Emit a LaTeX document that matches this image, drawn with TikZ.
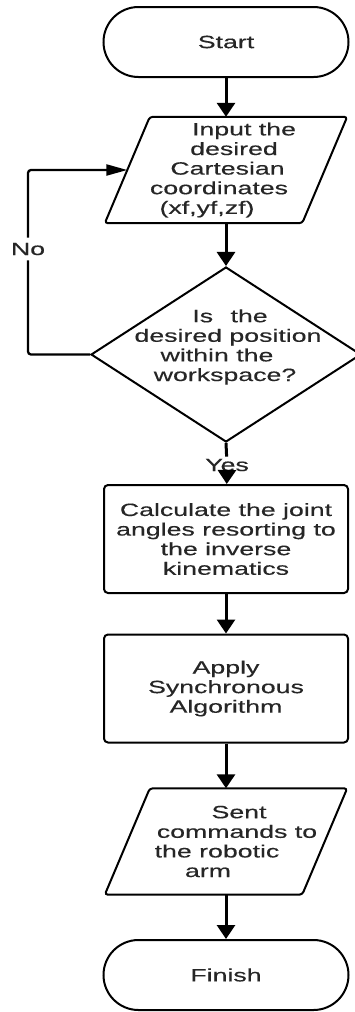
\documentclass[tikz,border=0pt]{standalone}
\usepackage{fontspec}
\setmainfont{Liberation Sans}[FakeStretch=1.5,FakeBold=0.3]
\usetikzlibrary{arrows.meta,shapes.geometric}
% one line of a centred block, moved sideways by half of #1
\newcommand\shiftedline[2]{\makebox[0pt]{\hspace*{#1}#2}}
\begin{document}
\begin{tikzpicture}[x=1pt,y=-1pt,
  txt/.style={font=\fontsize{17.8}{19.6}\selectfont, text=black!85},
  outline/.style={line width=2pt, draw=black},
  terminal/.style={txt, outline, rounded corners=35pt, minimum width=245pt,
    minimum height=70pt, inner sep=0pt},
  process/.style={txt, outline, rounded corners=4pt, minimum width=244pt,
    minimum height=108pt, align=center, inner sep=0pt},
  iobody/.style={txt, minimum width=197pt, minimum height=106pt,
    align=center, inner sep=0pt},
  decision/.style={outline, shape=diamond, minimum width=270pt,
    minimum height=175pt, inner sep=0pt},
  label/.style={txt, inner sep=3pt},
  flow/.style={line width=3pt, -{Triangle[length=14pt,width=18pt]}},
  plain/.style={line width=3pt},
  loopline/.style={line width=2.3pt, rounded corners=3pt},
  looparrow/.style={loopline, -{Triangle[length=21pt,width=11pt]}}]

\useasboundingbox (0,0) rectangle (355,1012);
\fill[white] (0,0) rectangle (355,1012);

% terminals and steps
\node[terminal] (start) at (226,42) {Start};

\node[iobody] (input) at (226,170) {%
  \shiftedline{36pt}{Input the}\\
  \shiftedline{16pt}{desired}\\
  \shiftedline{3pt}{Cartesian}\\
  \shiftedline{-14pt}{coordinates}\\
  \shiftedline{-38pt}{(xf,yf,zf)}};
\draw[outline, rounded corners=3pt]
  ([xshift=22.5pt]input.north west) -- ([xshift=22.5pt]input.north east)
  -- ([xshift=-22.5pt]input.south east) -- ([xshift=-22.5pt]input.south west)
  -- cycle;

\node[decision] (check) at (226,354.5) {};
\node[txt, align=center, inner sep=0pt] (checktext) at (226,347) {%
  \shiftedline{8pt}{Is\hspace{10pt} the}\\
  \shiftedline{4pt}{desired position}\\
  \shiftedline{-18pt}{within the}\\
  \shiftedline{-2pt}{workspace?}};

\node[label, inner sep=2pt] (yes) at (227,465) {Yes};
\node[label, inner sep=5pt] (no) at (28,249) {No};

\node[process] (calc) at (226,539) {Calculate the joint\\angles resorting to\\the inverse\\kinematics};
\node[process] (sync) at (226,688.5) {Apply\\Synchronous\\Algorithm};

\node[iobody] (send) at (226,841.5) {%
  \shiftedline{26pt}{Sent}\\
  \shiftedline{22pt}{commands to}\\
  \shiftedline{-18pt}{the robotic}\\
  \shiftedline{-36pt}{arm}};
\draw[outline, rounded corners=3pt]
  ([xshift=22.5pt]send.north west) -- ([xshift=22.5pt]send.north east)
  -- ([xshift=-22.5pt]send.south east) -- ([xshift=-22.5pt]send.south west)
  -- cycle;

\node[terminal] (finish) at (226,975) {Finish};

% connectors
\draw[flow] (start) -- (input);
\draw[flow] (input) -- (check);
\draw[plain] (check.south) -- (yes);
\draw[flow] (yes) -- (calc);
\draw[flow] (calc) -- (sync);
\draw[flow] (sync) -- (send);
\draw[flow] (send) -- (finish);
\draw[loopline] (check.west) -| (no);
\draw[looparrow] (no) |- (input.west);
\end{tikzpicture}
\end{document}
